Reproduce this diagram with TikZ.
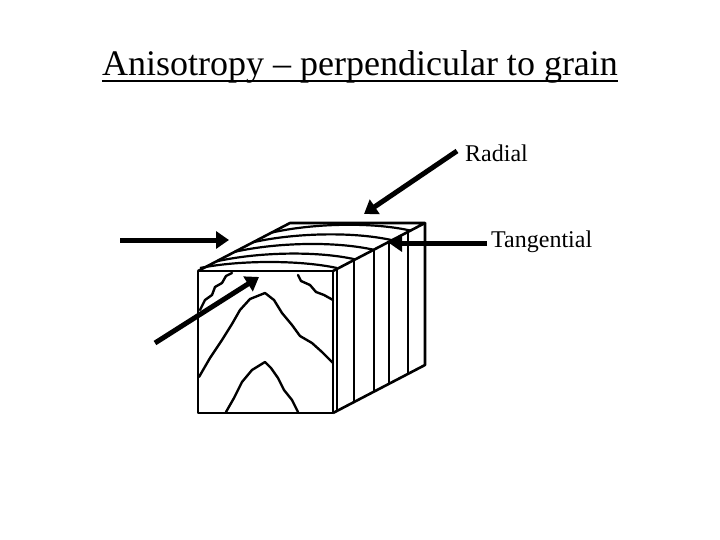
\documentclass[tikz,border=0pt]{standalone}
\usepackage{fontspec}
\setmainfont{Liberation Serif}
\usetikzlibrary{arrows.meta}
\begin{document}
\begin{tikzpicture}[x=1pt,y=-1pt,
  edge/.style={line width=2.6pt,line join=round},
  grain/.style={line width=2.4pt,line join=round,line cap=round},
  bigarrow/.style={line width=5pt,-{Triangle[length=13pt,width=17pt]}}]
\useasboundingbox (0,0) rectangle (720,540);
\node[font=\fontsize{36}{42}\selectfont,inner sep=0pt,anchor=base] (title) at (360,76) {Anisotropy – perpendicular to grain};
\draw[line width=2.5pt] (title.base west) ++(0,5) coordinate (u1) -- (title.base east |- u1) coordinate (u2);
% cube
\draw[edge] (198,271) rectangle (333,413);
\draw[edge] (198,271) -- (290,223) -- (425,223) -- (333,271);
\draw[edge] (425,223) -- (425,365) -- (333,413);
% right face lines
\foreach \x in {337,354,374,389,408}{
  \pgfmathsetmacro{\yt}{271-(\x-333)*48/92}
  \pgfmathsetmacro{\yb}{413-(\x-333)*48/92}
  \draw[line width=2pt] (\x,\yt) -- (\x,\yb);}
% top arcs
\foreach \t in {0.2,0.4,0.6,0.8}{
  \pgfmathsetmacro{\ax}{198+92*\t}\pgfmathsetmacro{\ay}{271-48*\t}
  \pgfmathsetmacro{\bx}{337+92*\t}\pgfmathsetmacro{\by}{269-48*\t}
  \draw[line width=2.2pt] (\ax,\ay) .. controls (\ax+40,\ay-9) and (\bx-40,\by-9) .. (\bx,\by);}
\draw[line width=2.2pt] (200,268) .. controls (240,260) and (300,260) .. (337,268);
% grain
\draw[grain] (200,310) -- (205,300) -- (212,295) -- (215,287) -- (222,283) -- (226,276) -- (232,273);
\draw[grain] (298,275) -- (301,281) -- (310,285) -- (316,292) -- (324,295) -- (333,300);
\draw[grain] (199,377) -- (210,358) -- (222,340) -- (232,324) -- (240,310) -- (250,299) -- (265,293) -- (274,300) -- (282,313) -- (292,325) -- (300,336) -- (312,343) -- (322,352) -- (333,363);
\draw[grain] (226,412) -- (234,398) -- (242,382) -- (252,370) -- (265,362) -- (271,368) -- (278,378) -- (284,390) -- (292,400) -- (298,412);
% arrows
\coordinate (a1s) at (120,240); \coordinate (a1e) at (229,240);
\coordinate (a2s) at (155,343); \coordinate (a2e) at (259,277);
\coordinate (a3s) at (457,151); \coordinate (a3e) at (364,214);
\coordinate (a4s) at (487,243); \coordinate (a4e) at (389,243);
\draw[bigarrow] (a1s) -- (a1e);
\draw[bigarrow] (a2s) -- (a2e);
\draw[bigarrow] (a3s) -- (a3e);
\draw[bigarrow] (a4s) -- (a4e);
\node[font=\fontsize{24}{28}\selectfont,anchor=west,inner sep=0pt] (radial) at (465,153) {Radial};
\node[font=\fontsize{24}{28}\selectfont,anchor=west,inner sep=0pt] (tang) at (491,242) {Tangential};
\end{tikzpicture}
\end{document}
